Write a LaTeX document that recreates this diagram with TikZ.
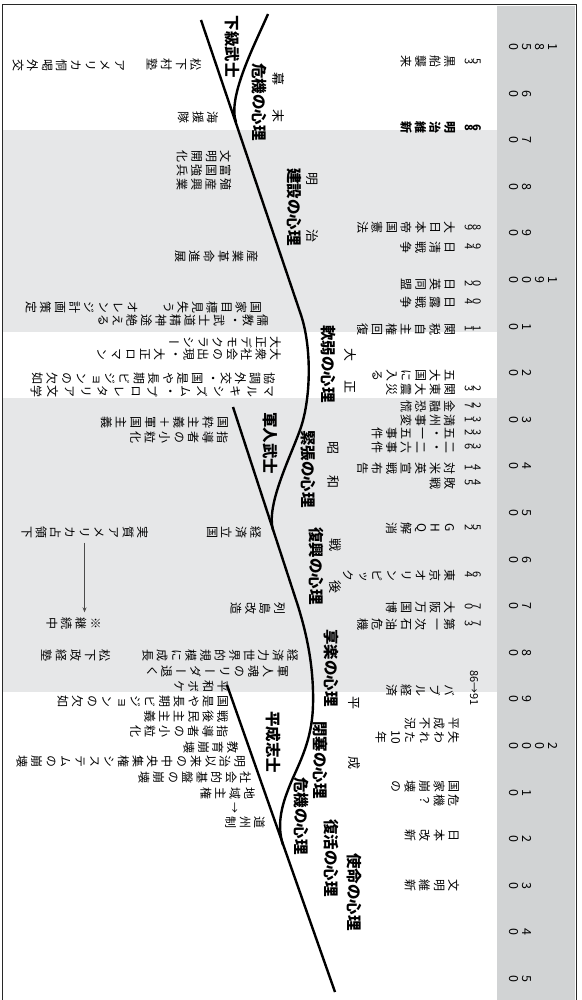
\documentclass[tikz,border=0pt]{standalone}
\usepackage{fontspec}
\newfontfamily\jpv[RawFeature=+vert]{Noto Sans CJK JP}
\newfontfamily\jph{Noto Sans CJK JP}
\usetikzlibrary{arrows.meta}
\definecolor{lgray}{RGB}{230,231,232}
\definecolor{dgray}{RGB}{209,211,212}
\definecolor{framec}{RGB}{40,40,40}
\newlength\tpitch
\newlength\twidth
\def\tateend{\tateend}
\def\tateloop#1{\ifx\tateend#1\else\tatecell{#1}\expandafter\tateloop\fi}
\newcommand\tatecell[1]{\vbox to\tpitch{\vss\hbox to\twidth{\hss#1\hss}\vss}}
\newcommand\tate[1]{\vbox{\offinterlineskip\tateloop#1\tateend}}
\tikzset{
  tbase/.style={rotate=-90,anchor=north,inner sep=0pt},
  ev/.style={tbase,font=\jpv\fontsize{12}{12}\selectfont,
     execute at begin node={\setlength\tpitch{14.5pt}\setlength\twidth{13pt}}},
  evw/.style={tbase,font=\jpv\fontsize{12}{12}\selectfont,
     execute at begin node={\setlength\tpitch{16.6pt}\setlength\twidth{13pt}}},
  evb/.style={ev,font=\jpv\bfseries\fontsize{12}{12}\selectfont},
  dg/.style={tbase,font=\jph\fontsize{11}{11}\selectfont,
     execute at begin node={\setlength\tpitch{8pt}\setlength\twidth{12pt}}},
  dgb/.style={dg,font=\jph\bfseries\fontsize{11}{11}\selectfont},
  dgh/.style={rotate=-90,inner sep=0pt,font=\jph\fontsize{11}{11}\selectfont},
  yr/.style={tbase,font=\jph\fontsize{12.5}{12.5}\selectfont,
     execute at begin node={\setlength\tpitch{13pt}\setlength\twidth{12pt}}},
  psy/.style={rotate=-90,inner sep=0pt,font=\jph\bfseries\fontsize{15.5}{15.5}\selectfont},
  era/.style={rotate=-90,inner sep=0pt,font=\jph\fontsize{13}{13}\selectfont},
  wave/.style={line width=2.4pt,black},
  arr/.style={line width=0.8pt,black!70,-{Stealth[length=5pt,width=4pt]}},
}
\begin{document}
\begin{tikzpicture}[x=1pt,y=-1pt]
\useasboundingbox (0,0) rectangle (581,1000);
% backgrounds
\fill[lgray] (3,130) rectangle (497,332);
\fill[lgray] (3,398) rectangle (497,692);
\fill[dgray] (497,6) rectangle (574.5,1000);
\draw[framec,line width=1.5pt] (2.5,1000) -- (2.5,4.5) -- (576.5,4.5) -- (576.5,1000);
% year band
\node[yr] (y1850) at (560,47) {\tate{1850}};
\foreach \k/\d in {1/60,2/70,3/80,4/90,6/10,7/20,8/30,9/40,10/50,11/60,12/70,13/80,14/90,16/10,17/20,18/30,19/40,20/50}
  \node[yr] (yb\k) at (534,47+46.6*\k) {\expandafter\tate\expandafter{\d}};
\node[yr] (y1900) at (560,280) {\tate{1900}};
\node[yr] (y2000) at (560,746) {\tate{2000}};
% waves
\draw[wave] (268,14) .. controls (256,42) and (227,97) .. (236,122);
\draw[wave] (201,20) -- (301,315) .. controls (312,348) and (311,400) .. (300,430) .. controls (290,458) and (266,505) .. (273,530);
\draw[wave] (233,407) -- (298,606) .. controls (306,632) and (314,665) .. (313,705) .. controls (312,745) and (296,768) .. (288,790) .. controls (281,808) and (277,826) .. (283,845);
\draw[wave] (227,685) -- (335,992);
% events column
\node[dg] (d53) at (481,62) {\tate{53}};
\node[ev] (e53) at (457,62) {\tate{黒船襲来}};
\node[dgb] (d68) at (481,128) {\tate{68}};
\node[evb] (e68) at (457,128) {\tate{明治維新}};
\node[dg] (d89) at (481,228) {\tate{89}};
\node[ev] (e89) at (457,228) {\tate{大日本帝国憲法}};
\node[dg] (d94) at (481,247) {\tate{94}};
\node[ev] (e94) at (457,247) {\tate{日清戦争}};
\node[dg] (d02) at (481,284) {\tate{02}};
\node[ev] (e02) at (457,284) {\tate{日英同盟}};
\node[dg] (d04) at (481,302) {\tate{04}};
\node[ev] (e04) at (457,302) {\tate{日露戦争}};
\node[dg] (d11) at (481,329) {\tate{11}};
\node[ev] (e11) at (457,329) {\tate{関税自主権回復}};
\node[ev] (e19) at (457,375) {\tate{五大国に入る}};
\node[dg] (d23) at (481,389) {\tate{23}};
\node[ev] (e23) at (457,389) {\tate{関東大震災}};
\node[dg] (d27) at (481,406) {\tate{27}};
\node[ev] (e27) at (457,406) {\tate{金融恐慌}};
\node[dg] (d31) at (481,420) {\tate{31}};
\node[ev] (e31) at (457,420) {\tate{満州事変}};
\node[dg] (d32) at (481,433) {\tate{32}};
\node[ev] (e32) at (457,433) {\tate{五・一五事件}};
\node[dg] (d36) at (481,447) {\tate{36}};
\node[ev] (e36) at (457,447) {\tate{二・二六事件}};
\node[dg] (d41) at (481,468) {\tate{41}};
\node[ev] (e41) at (457,468) {\tate{対米英宣戦布告}};
\node[dg] (d45) at (481,483) {\tate{45}};
\node[ev] (e45) at (457,483) {\tate{敗戦}};
\node[dg] (d52) at (481,528) {\tate{52}};
\node[ev] (e52) at (457,528) {\tate{GHQ解消}};
\node[dg] (d64) at (481,575) {\tate{64}};
\node[ev] (e64) at (457,575) {\tate{東京オリンピック}};
\node[dg] (d70) at (481,607) {\tate{70}};
\node[ev] (e70) at (457,607) {\tate{大阪万国博}};
\node[dg] (d73) at (481,624) {\tate{73}};
\node[ev] (e73) at (457,624) {\tate{第一次石油危機}};
\node[dgh] (d86) at (474,688) {86→91};
\node[ev] (e86) at (457,690) {\tate{バブル経済}};
\node[ev] (eh1) at (461,723) {\tate{平成不況}};
\node[ev] (eh2) at (461,737) {\tate{失われた{10}年}};
\node[ev] (eh3) at (461,786) {\tate{国家崩壊の}};
\node[ev] (eh4) at (461,800) {\tate{危機？}};
\node[ev] (eh5) at (461,835) {\tate{日本改新}};
\node[ev] (eh6) at (461,885) {\tate{文明維新}};
% second column
\node[ev] (c1) at (203,65) {\tate{松下村塾}};
\node[ev] (c2) at (127,66) {\tate{アメリカ恫喝外交}};
\node[ev] (c3) at (220,118) {\tate{海援隊}};
\node[ev] (c4) at (233,157) {\tate{文明開化}};
\node[ev] (c5) at (233,171) {\tate{富国強兵}};
\node[ev] (c6) at (233,185) {\tate{殖産興業}};
\node[ev] (c7) at (260,257) {\tate{産業革命進展}};
\node[ev] (c8) at (263,307) {\tate{国家目標見失う}};
\node[ev] (c9) at (140,307) {\tate{オレンジ計画策定}};
\node[ev] (c10) at (270,320) {\tate{儒教・武士道精神途絶える}};
\node[ev] (c11) at (283,342) {\tate{大正デモクラシー}};
\node[ev] (c12) at (283,354) {\tate{大衆社会の出現・大正ロマン}};
\node[ev] (c13) at (277,378) {\tate{協調外交・国是や長期ビジョンの欠如}};
\node[evw] (c14) at (277,391) {\tate{マルキシズム・プロレタリア文学}};
\node[ev] (c15) at (230,422) {\tate{国粋主義＋軍国主義}};
\node[ev] (c16) at (230,437) {\tate{指導者の小粒化}};
\node[ev] (c17) at (150,532) {\tate{実質アメリカ占領下}};
\node[ev] (c18) at (263,532) {\tate{経済立国}};
\node[ev] (c19) at (287,608) {\tate{列島改造}};
\node[ev] (c20) at (103,623) {\tate{※継続中}};
\node[ev] (c21) at (112,655) {\tate{松下政経塾}};
\node[ev] (c22) at (300,655) {\tate{経済力世界的規模に成長}};
\node[ev] (c23) at (290,671) {\tate{軍人魂のリーダー退く}};
\node[ev] (c24) at (230,686) {\tate{平和ボケ}};
\node[ev] (c25) at (230,701) {\tate{国是や長期ビジョンの欠如}};
\node[ev] (c26) at (230,716) {\tate{戦後民主主義}};
\node[ev] (c27) at (230,731) {\tate{指導者の小粒化}};
\node[ev] (c28) at (240,747) {\tate{教育崩壊}};
\node[ev] (c29) at (247,761) {\tate{明治以来の中央集権システムの崩壊}};
\node[ev] (c30) at (253,777) {\tate{社会的基盤の崩壊}};
\node[ev] (c31) at (257,793) {\tate{地域主権}};
\node[dgh] (c31a) at (234,808) {→};
\node[ev] (c32) at (267,822) {\tate{道州制}};
\draw[arr,shorten <=4pt,shorten >=4pt] (c17.east) -- (c17.east |- c20.west);
% labels
\node[psy] (p1) at (259,102) {危機の心理};
\node[psy] (p2) at (294,207) {建設の心理};
\node[psy] (p3) at (328,364) {軟弱の心理};
\node[psy] (p4) at (308,469) {緊張の心理};
\node[psy] (p5) at (316,566) {復興の心理};
\node[psy] (p6) at (331,668) {享楽の心理};
\node[psy] (p7) at (320,760) {閉塞の心理};
\node[psy] (p8) at (301,816) {危機の心理};
\node[psy] (p9) at (331,858) {復活の心理};
\node[psy] (p10) at (354,892) {使命の心理};
\node[psy] (g1) at (232,47) {下級武士};
\node[psy] (g2) at (270,443) {軍人武士};
\node[psy] (g3) at (273,742) {平成志士};
% eras
\node[era] (r1) at (278,98) {幕\hspace{24pt}末};
\node[era] (r2) at (312,208) {明\hspace{44pt}治};
\node[era] (r3) at (350,371) {大\hspace{19pt}正};
\node[era] (r4) at (333,465) {昭\hspace{22pt}和};
\node[era] (r5) at (335,566) {戦\hspace{30pt}後};
\node[era] (r6) at (354,733) {平\hspace{47pt}成};
\end{tikzpicture}
\end{document}
